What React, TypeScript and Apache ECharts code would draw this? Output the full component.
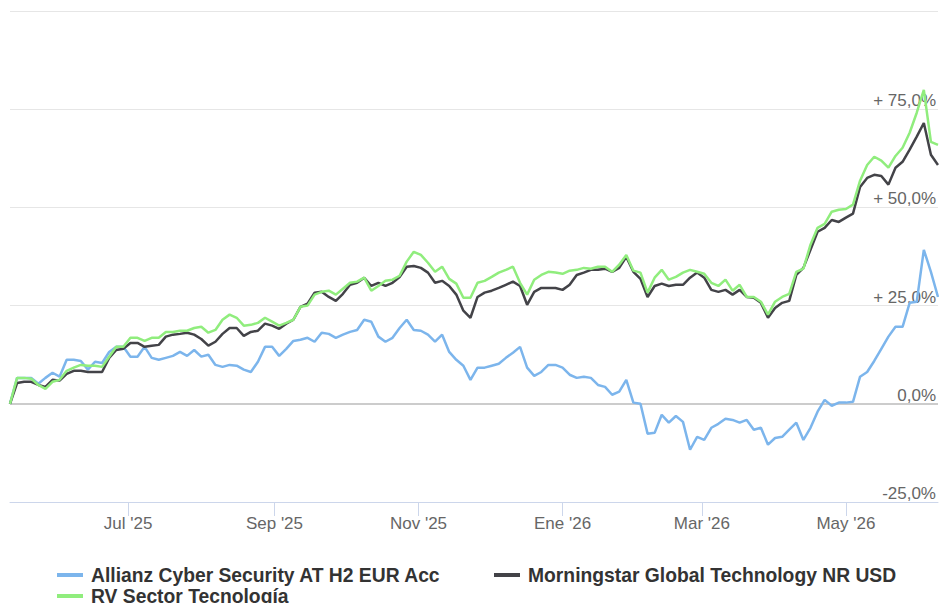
import React, { useEffect, useRef } from "react";
import * as echarts from "echarts";

// Observations every 3 calendar days starting 12 May 2025
const START_YEAR = 2025;
const START_MONTH = 4; // May (0-based)
const START_DAY = 12;
const STEP_DAYS = 3;

const SERIES_NAMES = [
  "Allianz Cyber Security AT H2 EUR Acc",
  "Morningstar Global Technology NR USD",
  "RV Sector Tecnología",
];

const ALLIANZ = [
  0, 6.6, 6.6, 6.6, 5.1, 6.6, 7.9, 6.9, 11.2, 11.2,
  10.9, 8.7, 10.7, 10.4, 13.2, 14.5, 14.5, 12.0, 12.0, 14.5,
  11.7, 11.2, 11.7, 12.2, 13.2, 12.2, 13.7, 12.0, 12.5, 9.9,
  9.4, 9.9, 9.7, 8.7, 8.1, 10.7, 14.5, 14.5, 12.2, 14.0,
  16.0, 16.3, 16.8, 15.8, 18.1, 17.8, 16.8, 17.6, 18.3, 18.8,
  21.4, 20.9, 17.1, 15.8, 16.8, 19.3, 21.4, 18.8, 18.6, 17.6,
  15.8, 17.6, 13.2, 11.2, 9.7, 6.1, 9.2, 9.2, 9.7, 10.2,
  11.7, 13.0, 14.5, 9.2, 7.1, 8.1, 9.9, 9.9, 9.2, 7.4,
  6.6, 6.9, 6.6, 4.8, 4.3, 2.3, 3.1, 6.1, 0.3, 0.0,
  -7.6, -7.4, -2.8, -4.8, -3.1, -4.6, -11.7, -8.4, -9.2, -6.1,
  -5.1, -3.8, -4.1, -4.8, -4.1, -6.6, -6.1, -10.4, -8.7, -8.4,
  -6.6, -4.8, -9.2, -6.1, -2.0, 1.0, -0.5, 0.3, 0.3, 0.5,
  6.9, 8.1, 10.9, 14.0, 17.1, 19.6, 19.6, 25.7, 26.0, 39.2,
  33.6, 27.2,
];

const MORNINGSTAR = [
  0, 5.3, 5.6, 5.6, 4.8, 4.3, 6.1, 5.9, 7.6, 8.4,
  8.4, 8.1, 8.1, 8.1, 11.7, 13.7, 14.0, 15.5, 15.5, 14.5,
  14.8, 15.0, 17.1, 17.6, 17.8, 18.1, 17.6, 16.5, 14.8, 15.8,
  17.8, 19.3, 19.3, 17.3, 18.3, 18.6, 20.4, 19.9, 19.1, 20.4,
  21.4, 24.7, 25.5, 28.3, 28.5, 27.2, 26.2, 28.0, 30.3, 30.8,
  32.1, 30.0, 30.8, 30.0, 30.8, 32.3, 34.9, 35.1, 34.6, 33.4,
  30.8, 31.3, 30.0, 27.8, 23.7, 21.9, 27.2, 28.3, 28.8, 29.5,
  30.3, 31.1, 30.0, 25.2, 28.5, 29.5, 29.5, 29.5, 29.0, 30.3,
  32.8, 33.4, 34.1, 34.1, 34.4, 33.6, 34.6, 37.4, 33.6, 31.8,
  27.2, 30.0, 30.6, 30.0, 30.3, 30.3, 32.1, 33.4, 32.1, 29.0,
  28.5, 29.0, 27.8, 29.0, 27.2, 27.0, 25.7, 21.9, 24.4, 25.7,
  26.2, 32.8, 34.6, 39.2, 43.8, 44.8, 46.8, 46.3, 47.4, 48.4,
  55.2, 57.5, 58.3, 58.0, 55.8, 60.1, 61.6, 64.7, 68.0, 71.5,
  63.4, 60.8,
];

const SECTOR = [
  0, 6.6, 6.6, 6.4, 4.8, 3.8, 5.6, 6.1, 8.4, 9.2,
  9.9, 9.7, 9.7, 9.4, 12.0, 14.5, 14.5, 16.8, 16.8, 16.0,
  16.8, 16.8, 18.3, 18.3, 18.6, 18.6, 19.3, 19.6, 18.1, 18.8,
  21.4, 22.7, 21.9, 19.9, 20.1, 20.6, 21.9, 20.9, 19.9, 20.6,
  21.4, 24.7, 25.0, 27.8, 28.5, 28.8, 27.8, 29.3, 30.8, 31.1,
  32.1, 28.8, 30.0, 31.3, 31.6, 32.6, 36.2, 38.7, 37.9, 35.9,
  33.6, 34.9, 31.8, 30.6, 27.0, 27.0, 30.8, 31.3, 32.3, 33.4,
  34.1, 34.9, 30.8, 27.8, 31.6, 32.8, 33.6, 33.4, 33.1, 33.9,
  34.1, 34.6, 34.4, 34.9, 34.9, 33.6, 35.4, 37.9, 33.9, 33.4,
  28.3, 32.1, 34.1, 31.6, 32.3, 33.4, 34.1, 33.6, 33.1, 30.8,
  30.0, 31.6, 28.8, 30.3, 27.2, 27.2, 26.0, 22.7, 26.0, 27.2,
  28.0, 33.6, 34.4, 40.5, 44.8, 45.8, 48.9, 49.4, 49.6, 50.7,
  56.8, 60.8, 62.9, 61.9, 60.1, 63.1, 65.2, 69.0, 74.1, 79.9,
  66.7, 65.9,
];

// x-axis tick positions (first day of every second month) and month names
const TICK_DATES = [
  "2025-07-01", "2025-09-01", "2025-11-01",
  "2026-01-01", "2026-03-01", "2026-05-01",
];
const MONTH_LABELS = [
  "Ene", "Feb", "Mar", "Abr", "May", "Jun",
  "Jul", "Ago", "Sep", "Oct", "Nov", "Dic",
];

const COLORS = ["#7cb5ec", "#434348", "#90ed7d"];
const FONT = "'Liberation Sans', Arial, Helvetica, sans-serif";

function toTs(s: string): number {
  const [y, m, d] = s.split("-").map(Number);
  return new Date(y, m - 1, d).getTime();
}

export default function App() {
  const ref = useRef<HTMLDivElement>(null);

  useEffect(() => {
    if (!ref.current) return;
    const chart = echarts.init(ref.current, undefined, { renderer: "svg" });

    const dates = ALLIANZ.map((_, i) =>
      new Date(START_YEAR, START_MONTH, START_DAY + STEP_DAYS * i).getTime()
    );
    const tickTs = TICK_DATES.map(toTs);
    const values = [ALLIANZ, MORNINGSTAR, SECTOR];

    const legendText = {
      fontSize: 19.3,
      fontWeight: "bold" as const,
      color: "#333333",
      fontFamily: FONT,
      lineHeight: 20,
      padding: [0, 0, 0, 3],
    };

    chart.setOption({
      animation: false,
      textStyle: { fontFamily: FONT },
      grid: { left: 10, right: 0, top: 11, bottom: 101, containLabel: false },
      xAxis: {
        type: "value",
        min: dates[0],
        max: dates[dates.length - 1],
        scale: true,
        axisLine: { onZero: false, lineStyle: { color: "#ccd6eb", width: 1 } },
        axisTick: {
          show: true,
          length: 14,
          customValues: tickTs,
          lineStyle: { color: "#ccd6eb" },
        },
        axisLabel: {
          customValues: tickTs,
          color: "#666666",
          fontSize: 17,
          fontFamily: FONT,
          margin: 13,
          formatter: (v: number) => {
            const d = new Date(v);
            return MONTH_LABELS[d.getMonth()] + " '" + String(d.getFullYear() % 100).padStart(2, "0");
          },
        },
        splitLine: { show: false },
      },
      yAxis: {
        type: "value",
        min: -25,
        max: 100,
        interval: 25,
        position: "right",
        axisLine: { show: false },
        axisTick: { show: false },
        splitLine: { show: true, lineStyle: { color: "#e6e6e6", width: 1 } },
        axisLabel: {
          inside: true,
          margin: 2,
          verticalAlign: "bottom",
          color: "#666666",
          fontSize: 17,
          fontFamily: FONT,
          formatter: (v: number) => {
            if (v >= 100) return "";
            const s = v.toFixed(1).replace(".", ",") + "%";
            return v > 0 ? "+ " + s : s;
          },
        },
      },
      legend: [
        {
          data: [SERIES_NAMES[0], SERIES_NAMES[1]],
          left: 57,
          top: 565,
          padding: 0,
          orient: "horizontal",
          icon: "rect",
          itemWidth: 26,
          itemHeight: 4,
          itemGap: 53,
          selectedMode: false,
          textStyle: legendText,
        },
        {
          data: [SERIES_NAMES[2]],
          left: 57,
          top: 586,
          padding: 0,
          orient: "horizontal",
          icon: "rect",
          itemWidth: 26,
          itemHeight: 4,
          selectedMode: false,
          textStyle: legendText,
        },
      ],
      series: SERIES_NAMES.map((name, k) => ({
        name,
        type: "line",
        data: dates.map((d, i) => [d, values[k][i]]),
        showSymbol: false,
        symbol: "none",
        color: COLORS[k],
        lineStyle: { color: COLORS[k], width: 2.5 },
        emphasis: { disabled: true },
        z: 2 + k,
        ...(k === 0
          ? {
              markLine: {
                silent: true,
                symbol: "none",
                label: { show: false },
                lineStyle: { color: "#cccccc", width: 2, type: "solid" },
                data: [{ yAxis: 0 }],
                z: 1,
              },
            }
          : {}),
      })),
    });

    return () => chart.dispose();
  }, []);

  return (
    <div
      ref={ref}
      style={{ position: "fixed", left: 0, top: 0, width: 939, height: 603, background: "#ffffff" }}
    />
  );
}
